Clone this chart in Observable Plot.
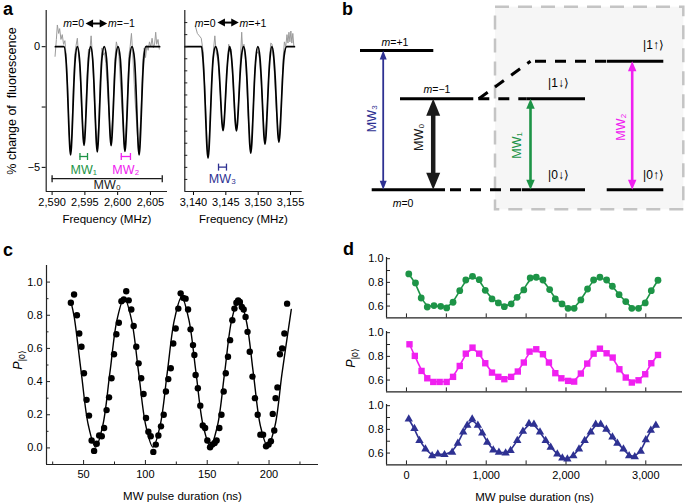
<!DOCTYPE html>
<html>
<head>
<meta charset="utf-8">
<script src="https://cdn.jsdelivr.net/npm/d3@7"></script>
<script src="https://cdn.jsdelivr.net/npm/@observablehq/plot@0.6"></script>
<style>
  html,body{margin:0;padding:0;background:#fff;}
  #fig{position:relative;width:685px;height:503px;overflow:hidden;background:#fff;font-family:"Liberation Sans",Arial,Helvetica,sans-serif;color:#000;}
  .lbl{position:absolute;white-space:nowrap;line-height:1;}
  .panel{font-weight:bold;font-size:18px;}
  .mt{font-size:10.5px;}
  .pl{font-size:12.5px;}
  .pl sub{font-size:8.5px;vertical-align:-0.3em;}
</style>
</head>
<body>
<div id="fig"></div>
<script>
const FONT = '"Liberation Sans", Arial, Helvetica, sans-serif';
const GREEN = "#1d9447", MAGENTA = "#f020f0", NAVY = "#2e3192", GRAYDATA = "#9b9b9b", AXIS = "#222";

// ---------------- Panel a : ODMR spectra ----------------
const freqTicksLow = [2590, 2595, 2600, 2605];
const freqTicksHigh = [3140, 3145, 3150, 3155];
const yTicksLow = [0, -2.5, -5];
const yTicksHigh = [1, 0.5, 0, -0.5, -1, -1.5, -2, -2.5, -3, -3.5, -4, -4.5, -5, -5.5];

const specLowData = [[2590.45,-0.4],[2590.65,0.3],[2590.8,0.9],[2591.0,0.55],[2591.15,0.75],[2591.35,0.3],[2591.55,0.5],[2591.75,0.1],[2591.95,0.25],[2592.15,-0.4],[2592.4,-1.9],[2592.6,-3.6],[2592.8,-4.4],[2593.0,-3.7],[2593.2,-1.9],[2593.45,-0.35],[2593.65,0.05],[2593.85,0.35],[2594.0,-0.2],[2594.25,-0.9],[2594.5,-2.6],[2594.8,-3.95],[2595.05,-3.4],[2595.3,-1.3],[2595.55,-0.1],[2595.75,-0.2],[2595.95,0.45],[2596.15,-0.35],[2596.45,-2.2],[2596.8,-4.2],[2597.1,-3.3],[2597.35,-1.2],[2597.6,-0.05],[2597.8,-0.35],[2598.0,-0.25],[2598.2,-0.7],[2598.5,-2.0],[2598.95,-3.95],[2599.3,-2.6],[2599.55,-0.6],[2599.8,0.2],[2600.0,-0.05],[2600.2,-0.4],[2600.55,-2.1],[2601.05,-4.25],[2601.4,-2.9],[2601.7,-0.4],[2601.9,0.0],[2602.1,0.55],[2602.3,-0.3],[2602.65,-2.2],[2603.2,-4.4],[2603.55,-2.8],[2603.85,-0.5],[2604.05,-0.05],[2604.25,-0.45],[2604.45,0.05],[2604.65,-0.15],[2604.85,0.2],[2605.05,0.0],[2605.25,0.35],[2605.45,-0.05],[2605.65,0.15],[2605.8,0.6],[2605.95,0.1],[2606.15,0.3],[2606.35,-0.1]];

const specLowFit = [[2590.5,0],[2591.8,0],
[2592.12,-0.54],[2592.32,-1.57],[2592.52,-3.05],[2592.70,-4.17],[2592.82,-4.48],[2592.94,-4.17],[2593.12,-3.05],[2593.32,-1.57],[2593.52,-0.54],[2593.85,0],
[2594.17,-0.49],[2594.37,-1.43],[2594.57,-2.78],[2594.75,-3.80],[2594.87,-4.09],[2594.99,-3.80],[2595.17,-2.78],[2595.37,-1.43],[2595.57,-0.49],[2595.88,0],
[2596.19,-0.52],[2596.39,-1.53],[2596.59,-2.96],[2596.77,-4.05],[2596.89,-4.36],[2597.01,-4.05],[2597.19,-2.96],[2597.39,-1.53],[2597.59,-0.52],[2597.95,0],
[2598.30,-0.49],[2598.50,-1.44],[2598.70,-2.79],[2598.88,-3.81],[2599.00,-4.10],[2599.12,-3.81],[2599.30,-2.79],[2599.50,-1.44],[2599.70,-0.49],[2600.05,0],
[2600.41,-0.52],[2600.61,-1.52],[2600.81,-2.95],[2600.99,-4.04],[2601.11,-4.34],[2601.23,-4.04],[2601.41,-2.95],[2601.61,-1.52],[2601.81,-0.52],[2602.19,0],
[2602.57,-0.54],[2602.77,-1.57],[2602.97,-3.05],[2603.15,-4.17],[2603.27,-4.48],[2603.39,-4.17],[2603.57,-3.05],[2603.77,-1.57],[2603.97,-0.54],[2604.30,0],[2606.4,0]];

const specHighData = [[3140.3,0.85],[3140.6,0.55],[3140.9,0.45],[3141.2,0.35],[3141.5,-0.2],[3141.8,-2.0],[3142.1,-4.0],[3142.3,-4.5],[3142.55,-3.2],[3142.85,-1.3],[3143.1,-0.1],[3143.3,0.45],[3143.5,-0.2],[3143.8,-0.6],[3144.1,-1.7],[3144.4,-3.1],[3144.6,-3.4],[3144.9,-2.5],[3145.2,-0.9],[3145.45,0.1],[3145.6,-0.2],[3145.8,-0.1],[3146.1,-1.4],[3146.4,-3.0],[3146.65,-3.45],[3146.95,-2.4],[3147.2,-0.8],[3147.45,0.6],[3147.6,-0.2],[3147.8,0.1],[3148.1,-0.7],[3148.45,-2.9],[3148.85,-4.35],[3149.2,-2.8],[3149.5,-0.9],[3149.75,-0.3],[3150.0,-0.2],[3150.2,-0.5],[3150.55,-1.8],[3151.0,-4.0],[3151.4,-2.5],[3151.75,-0.5],[3151.95,0.15],[3152.15,0.1],[3152.4,-0.6],[3152.8,-2.6],[3153.2,-3.9],[3153.55,-2.5],[3153.85,-0.5],[3154.05,0.2],[3154.25,0.0],[3154.45,0.5],[3154.6,0.15],[3154.75,0.6],[3154.9,0.2],[3155.05,0.65],[3155.2,0.15],[3155.35,0.55],[3155.5,0.05]];

const specHighFit = [[3138.7,0],[3141.25,0],[3141.45,-0.46],[3141.70,-1.62],[3141.90,-3.0],[3142.10,-4.25],[3142.25,-4.62],[3142.40,-4.25],[3142.60,-3.0],[3142.80,-1.62],[3143.05,-0.46],[3143.41,0],
[3143.77,-0.35],[3144.02,-1.22],[3144.22,-2.26],[3144.42,-3.20],[3144.57,-3.48],[3144.72,-3.20],[3144.92,-2.26],[3145.12,-1.22],[3145.37,-0.35],[3145.6,0],
[3145.84,-0.35],[3146.09,-1.22],[3146.29,-2.27],[3146.49,-3.21],[3146.64,-3.49],[3146.79,-3.21],[3146.99,-2.27],[3147.19,-1.22],[3147.44,-0.35],[3147.75,0],
[3148.05,-0.44],[3148.30,-1.54],[3148.50,-2.87],[3148.70,-4.06],[3148.85,-4.41],[3149.00,-4.06],[3149.20,-2.87],[3149.40,-1.54],[3149.65,-0.44],[3149.95,0],
[3150.25,-0.40],[3150.50,-1.41],[3150.70,-2.63],[3150.90,-3.72],[3151.05,-4.04],[3151.20,-3.72],[3151.40,-2.63],[3151.60,-1.41],[3151.85,-0.40],[3152.12,0],
[3152.40,-0.40],[3152.65,-1.39],[3152.85,-2.57],[3153.05,-3.64],[3153.20,-3.96],[3153.35,-3.64],[3153.55,-2.57],[3153.75,-1.39],[3154.0,-0.40],[3154.4,0],[3155.6,0]];

const mwBarsLow = [
  {name:"MW₁", x1:2594.25, x2:2595.4, y:-4.55, lx:2594.82, ly:-5.1},
  {name:"MW₂", x1:2600.55, x2:2601.95, y:-4.55, lx:2601.25, ly:-5.1},
  {name:"MW₀", x1:2590.0, x2:2606.8, y:-5.47, lx:2598.4, ly:-5.75}
];
const mwBarsHigh = [{name:"MW₃", x1:3143.87, x2:3145.1, y:-4.99, lx:3144.48, ly:-5.47}];
const transArrowLow = [{x1:2595.1, x2:2598.4, y:0.96}];
const transArrowHigh = [{x1:3143.7, x2:3147.0, y:1.0}];

// ---------------- Panel b : level scheme ----------------
const bLevelsSolid = [
  {state:"m=+1", E:1.531, x1:20, x2:93.3},
  {state:"m=−1", E:1.0, x1:60, x2:133.3},
  {state:"m=0", E:0, x1:31.7, x2:105},
  {state:"|1↓⟩", E:1.0, x1:186.7, x2:245},
  {state:"|0↓⟩", E:0, x1:181.7, x2:245},
  {state:"|1↑⟩", E:1.413, x1:266.7, x2:323.3},
  {state:"|0↑⟩", E:0, x1:266.7, x2:323.3}
];
const bLevelsDashed = [{E:0, x1:105, x2:181.7}, {E:1.0, x1:133.3, x2:186.7}, {E:1.413, x1:190, x2:266.7}];
const bSplit = [{x1:138.3, E1:1.0, x2:190, E2:1.413}];
const bTransitions = [
  {name:"MW₃", x:42.7, E0:0, E1:1.531, lx:31.7, lE:0.783},
  {name:"MW₀", x:92.7, E0:0, E1:1.0, lx:78.3, lE:0.578},
  {name:"MW₁", x:190, E0:0, E1:1.0, lx:176.7, lE:0.487},
  {name:"MW₂", x:291.7, E0:0, E1:1.413, lx:280, lE:0.688}
];
const bKets = [{text:"|1↑⟩", x:313, E:1.586}, {text:"|1↓⟩", x:218, E:1.168}, {text:"|0↓⟩", x:218, E:0.157}, {text:"|0↑⟩", x:313, E:0.157}];
const bBox = [{x1:155, x2:343.3, E1:-0.22, E2:2.007}];

// ---------------- Panel c : Rabi oscillation ----------------
const cTicksX = [50, 100, 150, 200];
const cMinorX = [25, 75, 125, 175, 225];
const cTicksY = [0, 0.2, 0.4, 0.6, 0.8, 1.0];
const cMinorY = [0.1, 0.3, 0.5, 0.7, 0.9];
const cPoints = [[39.7,0.875],[42.3,0.925],[44.6,0.800],[46.5,0.690],[48.3,0.610],[50.3,0.450],[52.4,0.290],[54.4,0.195],[56.5,0.045],[58.5,-0.018],[60.6,0.025],[62.6,0.075],[64.7,0.070],[66.6,0.120],[68.6,0.228],[70.6,0.305],[72.6,0.420],[74.6,0.565],[76.5,0.685],[78.5,0.755],[80.6,0.885],[82.5,0.895],[84.5,0.945],[86.5,0.890],[88.6,0.835],[90.5,0.735],[92.6,0.610],[94.5,0.510],[96.6,0.420],[98.5,0.325],[100.5,0.180],[102.4,0.098],[104.3,0.070],[106.4,-0.024],[108.4,0.020],[110.5,0.075],[112.6,0.130],[114.8,0.200],[116.6,0.340],[118.5,0.415],[120.5,0.480],[122.5,0.630],[124.5,0.720],[126.6,0.840],[128.5,0.932],[130.5,0.905],[132.5,0.900],[134.5,0.835],[136.5,0.715],[138.5,0.620],[139.6,0.560],[140.6,0.440],[142.4,0.360],[144.4,0.255],[146.4,0.135],[148.3,0.120],[150.1,0.045],[152.3,0.004],[154.0,0.020],[156.0,0.030],[157.6,0.045],[159.8,0.120],[161.5,0.200],[163.3,0.340],[165.0,0.450],[166.8,0.550],[168.5,0.650],[170.3,0.770],[172.0,0.840],[173.6,0.875],[175.0,0.890],[176.4,0.880],[178.0,0.850],[179.5,0.835],[181.0,0.790],[182.6,0.700],[184.4,0.580],[186.6,0.430],[188.6,0.300],[190.8,0.200],[193.0,0.080],[195.2,0.080],[197.6,0.010],[199.6,0.020],[201.5,0.040],[203.0,0.205],[204.2,0.105],[205.3,0.300],[206.8,0.365],[208.8,0.565],[210.6,0.600],[212.4,0.690],[214.6,0.870]];
const cFit = [[40,0.875],[42.4,0.79],[48.1,0.455],[53.9,0.135],[59.7,0.005],[65.5,0.135],[71.3,0.455],[77.1,0.775],[82.9,0.905],[88.7,0.775],[94.5,0.455],[100.3,0.135],[106.1,0.005],[111.9,0.135],[117.7,0.455],[123.5,0.775],[129.3,0.91],[135.1,0.775],[140.9,0.455],[146.7,0.135],[152.5,0.01],[158.3,0.135],[164.1,0.455],[169.9,0.775],[175.7,0.90],[181.5,0.77],[187.3,0.45],[193.1,0.13],[198.9,0.01],[204.7,0.13],[210.5,0.45],[218.0,0.835]];

// ---------------- Panel d : three Rabi oscillations ----------------
const dTicksX = [0, 1000, 2000, 3000];
const dMinorX = [0, 500, 1000, 1500, 2000, 2500, 3000];
const dTicksY = [0.6, 0.8, 1.0];
const dMinorY = [0.6, 0.7, 0.8, 0.9, 1.0];
const dGreen = [[29,0.871],[113,0.795],[185,0.668],[261,0.592],[345,0.604],[429,0.598],[504,0.584],[584,0.632],[668,0.73],[744,0.82],[828,0.851],[912,0.823],[988,0.733],[1072,0.66],[1152,0.626],[1227,0.595],[1312,0.618],[1387,0.674],[1471,0.736],[1551,0.837],[1627,0.843],[1711,0.82],[1795,0.739],[1866,0.66],[1950,0.618],[2026,0.581],[2102,0.581],[2186,0.652],[2270,0.744],[2346,0.82],[2425,0.843],[2509,0.82],[2581,0.767],[2665,0.696],[2749,0.638],[2825,0.581],[2909,0.581],[2993,0.626],[3069,0.73],[3153,0.818]];
const dMagenta = [[38,0.902],[105,0.804],[189,0.677],[261,0.615],[336,0.584],[416,0.584],[504,0.584],[584,0.627],[668,0.719],[744,0.823],[828,0.874],[912,0.823],[988,0.742],[1072,0.663],[1152,0.627],[1227,0.607],[1312,0.627],[1396,0.672],[1471,0.748],[1543,0.84],[1627,0.86],[1711,0.818],[1786,0.748],[1866,0.658],[1942,0.615],[2026,0.593],[2102,0.587],[2186,0.655],[2266,0.739],[2346,0.823],[2425,0.865],[2509,0.826],[2585,0.79],[2669,0.691],[2749,0.621],[2825,0.579],[2909,0.598],[2993,0.649],[3069,0.742],[3153,0.812]];
const dNavy = [[29,0.886],[100,0.806],[163,0.706],[238,0.634],[322,0.577],[393,0.591],[477,0.586],[573,0.606],[644,0.683],[711,0.777],[762,0.834],[824,0.886],[895,0.834],[950,0.769],[1013,0.691],[1088,0.626],[1159,0.606],[1243,0.6],[1305,0.62],[1389,0.706],[1460,0.783],[1536,0.849],[1598,0.843],[1674,0.777],[1745,0.706],[1808,0.649],[1891,0.591],[1954,0.557],[2017,0.549],[2092,0.577],[2163,0.634],[2234,0.706],[2310,0.777],[2372,0.843],[2435,0.843],[2506,0.8],[2582,0.734],[2644,0.683],[2720,0.634],[2791,0.577],[2862,0.569],[2937,0.614],[3000,0.711],[3063,0.791],[3126,0.834]];

// ---------------- styles ----------------
const MW_STYLE = {
  "MW₀": {color:"#1a1a1a", shaft:4.5, w:14, l:17},
  "MW₁": {color:GREEN, shaft:2.6, w:8.5, l:10},
  "MW₂": {color:MAGENTA, shaft:2.6, w:8.5, l:10},
  "MW₃": {color:NAVY, shaft:1.8, w:7, l:9}
};
const headUp = (w,l) => ({draw(c){c.moveTo(0,0);c.lineTo(w/2,l);c.lineTo(-w/2,l);c.closePath();}});
const headDown = (w,l) => ({draw(c){c.moveTo(0,0);c.lineTo(w/2,-l);c.lineTo(-w/2,-l);c.closePath();}});
const headLeft = (w,l) => ({draw(c){c.moveTo(0,0);c.lineTo(l,-w/2);c.lineTo(l,w/2);c.closePath();}});
const headRight = (w,l) => ({draw(c){c.moveTo(0,0);c.lineTo(-l,-w/2);c.lineTo(-l,w/2);c.closePath();}});
const vbar = h => ({draw(c){c.moveTo(0,-h/2);c.lineTo(0,h/2);}});
const fmtThousands = d3.format(",d");

const fig = document.getElementById("fig");
const baseStyle = {background:"transparent", overflow:"visible", fontFamily:FONT, fontSize:"11px", color:"#000"};
function place(el, left, top){ el.style.position="absolute"; el.style.left=left+"px"; el.style.top=top+"px"; fig.appendChild(el); }
function label(html, x, y, cls, tx, ty, rot){
  const d = document.createElement("div");
  d.className = "lbl " + cls; d.innerHTML = html;
  d.style.left = x + "px"; d.style.top = y + "px";
  d.style.transform = `translate(${tx},${ty})` + (rot || "");
  fig.appendChild(d);
}
const xTitle = (text, dy) => Plot.text([text], {frameAnchor:"bottom", dy, textAnchor:"middle", lineAnchor:"middle", fontSize:11.5});

const Y_A = [-6, 1.5];
function spectrum({width, marginLeft, marginRight, domain, ticks, data, fit, bars, arrow, yAxis, yMinor}){
  const innerW = width - marginLeft - marginRight;
  const marks = [
    Plot.line(data, {stroke:GRAYDATA, strokeWidth:1}),
    Plot.line(fit, {stroke:"#000", strokeWidth:1.7, curve:"monotone-x"}),
    Plot.ruleX([domain[0]], {stroke:AXIS, strokeWidth:1.2}),
    Plot.ruleY([Y_A[0]], {stroke:AXIS, strokeWidth:1.2}),
    Plot.ruleY(bars, {y:"y", x1:"x1", x2:"x2", stroke:d => MW_STYLE[d.name].color, strokeWidth:1.3}),
    Plot.dot(bars, {x:"x1", y:"y", symbol:vbar(7), stroke:d => MW_STYLE[d.name].color, fill:"none", strokeWidth:1.3}),
    Plot.dot(bars, {x:"x2", y:"y", symbol:vbar(7), stroke:d => MW_STYLE[d.name].color, fill:"none", strokeWidth:1.3}),
    Plot.text(bars, {x:"lx", y:"ly", text:"name", fill:d => MW_STYLE[d.name].color, fontSize:12.5}),
    Plot.ruleY(arrow, {y:"y", x1:"x1", x2:"x2", stroke:"#000", strokeWidth:2, insetLeft:4, insetRight:4}),
    Plot.dot(arrow, {x:"x1", y:"y", symbol:headLeft(8,7.5), fill:"#000", stroke:"none"}),
    Plot.dot(arrow, {x:"x2", y:"y", symbol:headRight(8,7.5), fill:"#000", stroke:"none"}),
    xTitle("Frequency (MHz)", 28)
  ];
  if (yMinor) marks.push(Plot.tickY(yMinor, {y:d => d, insetRight:innerW - 3, stroke:AXIS}));
  if (yAxis) marks.push(Plot.text(["% change of  fluorescence"], {frameAnchor:"left", dx:-34, rotate:-90, textAnchor:"middle", lineAnchor:"middle", fontSize:12.5}));
  return Plot.plot({
    width, height:235, marginLeft, marginRight, marginTop:10, marginBottom:44,
    style: baseStyle,
    color: {type:"identity"},
    x: {domain, ticks, tickSize:4, tickPadding:3, tickFormat:fmtThousands, label:null},
    y: yAxis ? {domain:Y_A, ticks:yTicksLow, tickSize:4, tickPadding:2, tickFormat:d => d === -2.5 ? "" : d3.format("")(d), label:null}
             : {domain:Y_A, axis:null},
    marks
  });
}

place(spectrum({width:175, marginLeft:45.7, marginRight:8, domain:[2589.1, 2607.6], ticks:freqTicksLow, data:specLowData, fit:specLowFit, bars:mwBarsLow, arrow:transArrowLow, yAxis:true}), 0, 0);
place(spectrum({width:135, marginLeft:9.3, marginRight:8.3, domain:[3138.66, 3156.8], ticks:freqTicksHigh, data:specHighData, fit:specHighFit, bars:mwBarsHigh, arrow:transArrowHigh, yAxis:false, yMinor:yTicksHigh}), 175, 0);

// ---- panel b ----
const bMarks = [
  Plot.rect(bBox, {x1:"x1", x2:"x2", y1:"E1", y2:"E2", fill:"#f6f6f6", stroke:"#c4c4c4", strokeWidth:2.5, strokeDasharray:"14,9"}),
  Plot.ruleY(bLevelsDashed, {y:"E", x1:"x1", x2:"x2", stroke:"#000", strokeWidth:3, strokeDasharray:"11,9", strokeDashoffset:15}),
  Plot.link(bSplit, {x1:"x1", y1:"E1", x2:"x2", y2:"E2", stroke:"#000", strokeWidth:3, strokeDasharray:"11,9"}),
  Plot.ruleY(bLevelsSolid, {y:"E", x1:"x1", x2:"x2", stroke:"#000", strokeWidth:3})
];
for (const t of bTransitions) {
  const s = MW_STYLE[t.name];
  bMarks.push(
    // y1 = upper level (smaller pixel), y2 = lower level, so the insets shorten the shaft at both ends
    Plot.ruleX([t], {x:"x", y1:"E1", y2:"E0", stroke:s.color, strokeWidth:s.shaft, insetTop:s.l*0.6, insetBottom:s.l*0.6}),
    Plot.dot([t], {x:"x", y:"E1", symbol:headUp(s.w, s.l), fill:s.color, stroke:"none"}),
    Plot.dot([t], {x:"x", y:"E0", symbol:headDown(s.w, s.l), fill:s.color, stroke:"none"})
  );
}
bMarks.push(
  Plot.text(bTransitions, {x:"lx", y:"lE", text:"name", fill:d => MW_STYLE[d.name].color, rotate:-90, fontSize:12.5}),
  Plot.text(bKets, {x:"x", y:"E", text:"text", fontSize:12})
);
place(Plot.plot({
  width:345, height:240, marginLeft:0, marginRight:0, marginTop:0, marginBottom:0,
  style: baseStyle, color:{type:"identity"},
  x:{domain:[0,345], axis:null}, y:{domain:[-0.557, 2.08], axis:null},
  marks: bMarks
}), 340, 0);

// ---- panel c ----
place(Plot.plot({
  width:340, height:250, marginLeft:46, marginRight:22, marginTop:15, marginBottom:36,
  style: baseStyle,
  x:{domain:[20,240], ticks:cTicksX, tickSize:0, tickPadding:6, label:null},
  y:{domain:[-0.1,1.1], ticks:cTicksY, tickSize:0, tickPadding:4, tickFormat:d3.format(".1f"), label:null},
  marks:[
    Plot.ruleX([20], {stroke:AXIS, strokeWidth:1.2}),
    Plot.ruleY([-0.1], {stroke:AXIS, strokeWidth:1.2}),
    Plot.tickX(cTicksX, {x:d => d, insetTop:199 - 4, stroke:AXIS}),
    Plot.tickX(cMinorX, {x:d => d, insetTop:199 - 2.5, stroke:AXIS}),
    Plot.tickY(cTicksY, {y:d => d, insetRight:272 - 4, stroke:AXIS}),
    Plot.tickY(cMinorY, {y:d => d, insetRight:272 - 2.5, stroke:AXIS}),
    Plot.line(cFit, {stroke:"#000", strokeWidth:1.4, curve:"catmull-rom"}),
    Plot.dot(cPoints, {r:3.2, fill:"#000", stroke:"none"}),
    xTitle("MW pulse duration (ns)", 32)
  ]
}), 0, 250);

// ---- panel d ----
const dSeries = [
  {data:dGreen, color:GREEN, symbol:"circle", r:3.4},
  {data:dMagenta, color:MAGENTA, symbol:"square", r:3.6},
  {data:dNavy, color:NAVY, symbol:"triangle", r:3.1}
];
const dTops = [246.9, 320.6, 393.6];
const dInnerH = 60.4, dInnerW = 296;
dSeries.forEach((s, i) => {
  const last = i === 2;
  const marks = [
    Plot.ruleX([-250], {stroke:AXIS, strokeWidth:1.2}),
    Plot.ruleY([0.5], {stroke:AXIS, strokeWidth:1.2}),
    Plot.tickX(dMinorX, {x:d => d, insetTop:dInnerH - 4, stroke:AXIS}),
    Plot.tickY(dMinorY, {y:d => d, insetRight:dInnerW - 4, stroke:AXIS}),
    Plot.line(s.data, {stroke:s.color, strokeWidth:1.6, curve:"basis"}),
    Plot.dot(s.data, {symbol:s.symbol, r:s.r, fill:s.color, stroke:"none"})
  ];
  if (last) marks.push(xTitle("MW pulse duration (ns)", 32));
  place(Plot.plot({
    width:345, height:10 + dInnerH + (last ? 40 : 6), marginLeft:46, marginRight:3, marginTop:10, marginBottom:last ? 40 : 6,
    style: baseStyle,
    x: last ? {domain:[-250,3460], ticks:dTicksX, tickSize:0, tickPadding:6, tickFormat:fmtThousands, label:null}
            : {domain:[-250,3460], axis:null},
    y: {domain:[0.5,1.01], ticks:dTicksY, tickSize:0, tickPadding:3, tickFormat:d3.format(".1f"), label:null},
    marks
  }), 340, dTops[i]);
});

// ---- rich text labels ----
label("a", 3, 0, "panel", "0", "0");
label("b", 342, 0, "panel", "0", "0");
label("c", 3, 241, "panel", "0", "0");
label("d", 343, 240, "panel", "0", "0");
label("<i>m</i>=0", 84, 23, "mt", "-100%", "-50%");
label("<i>m</i>=−1", 108, 23, "mt", "0", "-50%");
label("<i>m</i>=0", 215.5, 22.7, "mt", "-100%", "-50%");
label("<i>m</i>=+1", 239.5, 22.7, "mt", "0", "-50%");
label("<i>m</i>=+1", 395, 41.5, "mt", "-50%", "-50%");
label("<i>m</i>=−1", 437, 89, "mt", "-50%", "-50%");
label("<i>m</i>=0", 403, 203, "mt", "-50%", "-50%");
label("<i>P</i><sub>|0⟩</sub>", 19, 360, "pl", "-50%", "-50%", " rotate(-90deg)");
label("<i>P</i><sub>|0⟩</sub>", 352, 358, "pl", "-50%", "-50%", " rotate(-90deg)");
</script>
</body>
</html>
